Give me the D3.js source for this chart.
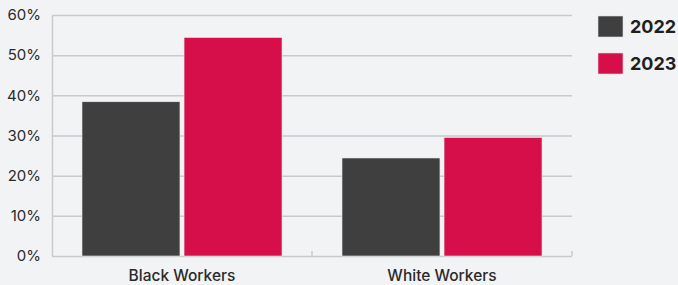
<!DOCTYPE html>
<html>
<head>
<meta charset="utf-8">
<script src="https://cdn.jsdelivr.net/npm/d3@7"></script>
<style>
  body { margin: 0; background: #f2f3f5; }
  #chart { width: 678px; height: 285px; }
</style>
</head>
<body>
<div id="chart"></div>
<script>
// data
var groups = ["Black Workers", "White Workers"];
var years = ["2022", "2023"];
var values2022 = [38.4, 24.4];
var values2023 = [54.4, 29.5];
var yTicks = [0, 10, 20, 30, 40, 50, 60];
var colors = ["#3f3f3f", "#d60e4a"];

var margin = {top: 15, right: 106, bottom: 29, left: 52},
  width = 678 - margin.left - margin.right,
  height = 285 - margin.top - margin.bottom;

var svg = d3.select("#chart")
  .append("svg")
    .attr("width", 678)
    .attr("height", 285)
  .append("g")
    .attr("transform", "translate(" + margin.left + "," + margin.top + ")");

var rows = groups.map(function(g, i) {
  return {group: g, vals: [values2022[i], values2023[i]]};
});

var x = d3.scaleBand()
  .domain(groups)
  .range([0, width]);

var xInner = d3.scaleBand()
  .domain(years)
  .range([30, x.bandwidth() - 30])
  .paddingInner(0.04);

var y = d3.scaleLinear()
  .domain([0, 60])
  .range([height, 0]);

// gridlines
svg.append("g")
  .selectAll("line")
  .data(yTicks)
  .enter()
  .append("line")
    .attr("x1", 0)
    .attr("x2", width)
    .attr("y1", function(d) { return y(d) + 0.5 })
    .attr("y2", function(d) { return y(d) + 0.5 })
    .style("stroke", "#c9cacc")
    .style("stroke-width", 1.5);

// y labels
svg.append("g")
  .selectAll("text")
  .data(yTicks)
  .enter()
  .append("text")
    .attr("x", -11)
    .attr("y", function(d) { return y(d) })
    .attr("dy", "0.35em")
    .attr("text-anchor", "end")
    .style("font-family", "Inter")
    .style("font-size", "15px")
    .style("fill", "#2a2a2a")
    .text(function(d) { return d + "%" });

// left axis line
svg.append("line")
  .attr("x1", 0.5).attr("x2", 0.5)
  .attr("y1", y(60)).attr("y2", y(0))
  .style("stroke", "#c9cacc")
  .style("stroke-width", 1.5);

// category separators
svg.append("g")
  .selectAll("line")
  .data(groups)
  .enter()
  .append("line")
    .attr("x1", function(d) { return x(d) + x.bandwidth() })
    .attr("x2", function(d) { return x(d) + x.bandwidth() })
    .attr("y1", y(0) - 5)
    .attr("y2", y(0))
    .style("stroke", "#c9cacc")
    .style("stroke-width", 1.5);

// bars
var grp = svg.selectAll(".grp")
  .data(rows)
  .enter()
  .append("g")
    .attr("transform", function(d) { return "translate(" + x(d.group) + ",0)" });

grp.selectAll("rect")
  .data(function(d) { return d.vals.map(function(v, i) { return {year: years[i], value: v, i: i} }) })
  .enter()
  .append("rect")
    .attr("x", function(d) { return xInner(d.year) })
    .attr("y", function(d) { return y(d.value) })
    .attr("width", xInner.bandwidth())
    .attr("height", function(d) { return y(0) - y(d.value) })
    .style("fill", function(d) { return colors[d.i] })
    .style("stroke", "#e8e8ea")
    .style("stroke-width", 0.6);

// x labels
svg.append("g")
  .selectAll("text")
  .data(groups)
  .enter()
  .append("text")
    .attr("x", function(d) { return x(d) + x.bandwidth() / 2 })
    .attr("y", height + 25)
    .attr("text-anchor", "middle")
    .style("font-family", "Inter")
    .style("font-size", "15.5px")
    .style("font-weight", 500)
    .style("fill", "#2a2a2a")
    .text(function(d) { return d });

// legend
var legend = d3.select("svg").append("g")
  .attr("transform", "translate(598,16)");

var item = legend.selectAll("g")
  .data(years)
  .enter()
  .append("g")
    .attr("transform", function(d, i) { return "translate(0," + (i * 37) + ")" });

item.append("rect")
  .attr("width", 25)
  .attr("height", 21)
  .style("fill", function(d, i) { return colors[i] })
  .style("stroke", "#e0e0e2")
  .style("stroke-width", 0.6);

item.append("text")
  .attr("x", 32)
  .attr("y", 10.5)
  .attr("dy", "0.36em")
  .style("font-family", "Inter")
  .style("font-size", "18px")
  .style("font-weight", 700)
  .style("fill", "#1f1f1f")
  .text(function(d) { return d });
</script>
</body>
</html>
